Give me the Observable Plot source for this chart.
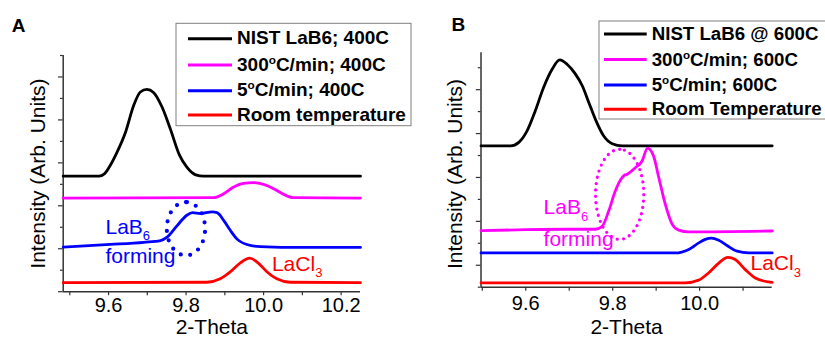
<!DOCTYPE html>
<html><head><meta charset="utf-8">
<script src="https://cdn.jsdelivr.net/npm/d3@7"></script>
<script src="https://cdn.jsdelivr.net/npm/@observablehq/plot@0.6"></script>
<style>
body{margin:0;background:#fff}
#wrap{position:relative;width:825px;height:337px;overflow:hidden;font-family:"Liberation Sans",Arial,sans-serif;background:#fff}
#wrap svg{position:absolute;top:0}
</style></head><body><div id="wrap"></div>
<script>
// ---------------- DATA ----------------
const seriesColors = ["#000000", "#ff00ff", "#0000ff", "#ff0000"];

// Panel A (2-Theta, intensity offset)
const aLegend = ["NIST LaB6; 400C", "300^oC/min; 400C", "5^oC/min; 400C", "Room temperature"];
const aNist = [[9.483,2.69],[9.575,2.69],[9.59,2.75],[9.605,2.95],[9.622,3.25],[9.644,3.72],[9.665,4.34],[9.682,4.65],[9.699,4.71],[9.716,4.64],[9.738,4.30],[9.759,3.80],[9.783,3.18],[9.802,2.90],[9.825,2.72],[9.845,2.69],[10.25,2.69]];
const aFast = [[9.483,2.18],[9.871,2.19],[9.897,2.28],[9.923,2.44],[9.948,2.52],[9.974,2.54],[10.0,2.50],[10.026,2.40],[10.051,2.27],[10.077,2.19],[10.25,2.18]];
const aSlow = [[9.483,1.04],[9.605,1.10],[9.691,1.15],[9.734,1.19],[9.751,1.27],[9.777,1.54],[9.802,1.78],[9.817,1.84],[9.837,1.82],[9.867,1.86],[9.88,1.84],[9.897,1.66],[9.914,1.43],[9.931,1.23],[9.957,1.10],[9.991,1.05],[10.10,1.03],[10.25,1.03]];
const aRoom = [[9.483,0.21],[9.854,0.22],[9.888,0.30],[9.914,0.46],[9.94,0.67],[9.964,0.78],[9.987,0.66],[10.009,0.46],[10.034,0.30],[10.069,0.22],[10.25,0.21]];
const aXTicks = [9.5,9.6,9.7,9.8,9.9,10.0,10.1,10.2];
const aXLabels = [9.6,9.8,10.0,10.2];
const aYMajor = [0,1,2,3,4,5];
const aYMinor = [0.5,1.5,2.5,3.5,4.5,5.5];
const aNotes = [{x:9.592,y:1.506,t:"LaB_6",c:"#0000ff"},{x:9.592,y:0.82,t:"forming",c:"#0000ff"},{x:10.0215,y:0.65,t:"LaCl_3",c:"#ff0000"}];
const aEllipse = {cx:9.7997, cy:1.466, rx:0.0494, ry:0.622, color:"#0000ff"};

// Panel B
const bLegend = ["NIST LaB6 @ 600C", "300^oC/min; 600C", "5^oC/min; 600C", "Room Temperature"];
const bNist = [[9.497,3.72],[9.565,3.72],[9.584,3.80],[9.603,4.06],[9.622,4.52],[9.641,5.05],[9.661,5.47],[9.678,5.68],[9.695,5.58],[9.714,5.36],[9.73,5.09],[9.745,4.71],[9.76,4.33],[9.779,3.95],[9.799,3.77],[9.822,3.72],[10.167,3.72]];
const bFast = [[9.497,1.79],[9.60,1.81],[9.70,1.82],[9.76,1.82],[9.776,1.89],[9.791,2.24],[9.806,2.69],[9.822,3.00],[9.827,3.05],[9.833,3.07],[9.852,3.22],[9.868,3.38],[9.880,3.67],[9.894,3.49],[9.906,3.00],[9.921,2.39],[9.937,1.93],[9.952,1.80],[9.975,1.76],[10.167,1.78]];
const bSlow = [[9.497,1.28],[9.944,1.28],[9.975,1.36],[9.998,1.51],[10.013,1.59],[10.027,1.62],[10.044,1.57],[10.063,1.45],[10.086,1.32],[10.113,1.28],[10.167,1.28]];
const bRoom = [[9.497,0.60],[9.967,0.60],[9.998,0.66],[10.021,0.83],[10.044,1.05],[10.065,1.18],[10.082,1.13],[10.105,0.90],[10.128,0.71],[10.159,0.62],[10.167,0.61]];
const bXTicks = [9.5,9.6,9.7,9.8,9.9,10.0,10.1];
const bXLabels = [9.6,9.8,10.0];
const bYMajor = [1,2,3,4,5];
const bYMinor = [0.5,1.5,2.5,3.5,4.5,5.5];
const bNotes = [{x:9.641,y:2.313,t:"LaB_6",c:"#ff00ff"},{x:9.641,y:1.589,t:"forming",c:"#ff00ff"},{x:10.117,y:1.034,t:"LaCl_3",c:"#ff0000"}];
const bEllipse = {cx:9.816, cy:2.616, rx:0.0555, ry:1.027, color:"#ff00ff"};

// ---------------- DRAW ----------------
const FONT = '"Liberation Sans", Arial, sans-serif';
const AXIS = "#333";
const wrap = document.getElementById("wrap");

function ellipsePts(e) {
  const n = 160, pts = [];
  for (let i = 0; i <= n; i++) {
    const t = Math.PI / 2 + (i / n) * 2 * Math.PI;
    pts.push([e.cx + e.rx * Math.cos(t), e.cy + e.ry * Math.sin(t)]);
  }
  return pts;
}

function panel(p) {
  const rows = p.series.flatMap((s, i) => s.map(([x, y]) => ({x, y, k: i})));
  const svg = Plot.plot({
    width: p.width, height: 337,
    marginLeft: p.ml, marginRight: p.mr, marginTop: p.mt, marginBottom: p.mb,
    x: {domain: p.xDomain, label: null},
    y: {domain: p.yDomain, label: null},
    style: {fontFamily: FONT, fontSize: "20px", color: "#000", background: "transparent"},
    marks: [
      Plot.axisY(p.yMajor, {tickSize: 4.7, tickFormat: () => "", stroke: AXIS, strokeWidth: 1.2, label: null}),
      Plot.axisY(p.yMinor.filter(v => v >= p.yDomain[0] && v <= p.yDomain[1]), {tickSize: 2.7, tickFormat: () => "", stroke: AXIS, strokeWidth: 1.2, label: null}),
      Plot.axisX(p.xTicks, {tickSize: 4, tickFormat: () => "", stroke: AXIS, strokeWidth: 1.2, label: null}),
      Plot.axisX(p.xLabels, {tickSize: 0, tickPadding: p.tickPad, tickFormat: d => d.toFixed(1), fontSize: 20, label: null}),
      Plot.ruleX([p.xDomain[0]], {stroke: AXIS, strokeWidth: 1.5}),
      Plot.ruleY([p.yDomain[0]], {stroke: AXIS, strokeWidth: 1.5}),
      Plot.line(rows, {x: "x", y: "y", z: "k", stroke: d => seriesColors[d.k], strokeWidth: 2.8, curve: "monotone-x", strokeLinejoin: "round"}),
      Plot.line(ellipsePts(p.ellipse), {x: d => d[0], y: d => d[1], stroke: p.ellipse.color, strokeWidth: p.dotW, strokeDasharray: p.dotDash, strokeLinecap: "round", curve: "linear"}),
      Plot.text(p.notes, {x: "x", y: "y", text: "t", fill: d => d.c, fontSize: 21, textAnchor: "start", lineAnchor: "middle"}),
      Plot.text(["Intensity (Arb. Units)"], {frameAnchor: "left", rotate: -90, dx: p.ylabDx, dy: p.ylabDy, fontSize: 21, textAnchor: "middle", lineAnchor: "middle"}),
      Plot.text(["2-Theta"], {frameAnchor: "bottom", dy: p.xlabDy, fontSize: 21, textAnchor: "middle", lineAnchor: "top"})
    ]
  });
  svg.style.left = p.left + "px";
  // subscripts
  d3.select(svg).selectAll("text").each(function() {
    const el = d3.select(this);
    if (this.childElementCount === 0 && this.textContent.includes("_")) {
      const [a, b] = this.textContent.split("_");
      el.text(a);
      el.append("tspan").attr("font-size", 13).attr("dy", 6.5).text(b);
    }
  });
  wrap.appendChild(svg);
}

panel({left: 0, width: 420, ml: 62.7, mr: 60, mt: 55, mb: 45.8,
  xDomain: [9.483, 10.25], yDomain: [0, 5.5], xTicks: aXTicks, xLabels: aXLabels, yMajor: aYMajor, yMinor: aYMinor,
  series: [aNist, aFast, aSlow, aRoom], notes: aNotes, ellipse: aEllipse, dotW: 4.2, dotDash: "0 9.6",
  tickPad: 6.5, ylabDx: -25.4, ylabDy: 0, xlabDy: 27.3});
panel({left: 420, width: 405, ml: 60.5, mr: 53.3, mt: 52.3, mb: 50.3,
  xDomain: [9.497, 10.167], yDomain: [0.5, 5.84], xTicks: bXTicks, xLabels: bXLabels, yMajor: bYMajor, yMinor: bYMinor,
  series: [bNist, bFast, bSlow, bRoom], notes: bNotes, ellipse: bEllipse, dotW: 3.3, dotDash: "0 6.4",
  tickPad: 9, ylabDx: -25.5, ylabDy: 4, xlabDy: 31.6});

// overlay: legends and panel letters
const ov = d3.select(wrap).append("svg").attr("width", 825).attr("height", 337).style("left", "0px").style("pointer-events", "none");
function legend(labels, o) {
  ov.append("rect").attr("x", o.x).attr("y", o.y).attr("width", o.w).attr("height", o.h)
    .attr("fill", "#fff").attr("stroke", "#808080").attr("stroke-width", 1);
  labels.forEach((lab, i) => {
    const b = o.base[i];
    ov.append("line").attr("x1", o.l1).attr("x2", o.l2).attr("y1", b - o.off).attr("y2", b - o.off)
      .attr("stroke", seriesColors[i]).attr("stroke-width", 3);
    const t = ov.append("text").attr("x", o.tx).attr("y", b).attr("font-family", FONT)
      .attr("font-weight", "bold").attr("font-size", o.fs).attr("fill", "#000");
    const parts = lab.split("^o");
    if (parts.length === 2) {
      t.append("tspan").text(parts[0]);
      t.append("tspan").attr("font-size", o.fs * 0.62).attr("dy", -7).text("o");
      t.append("tspan").attr("dy", 7).text(parts[1]);
    } else t.text(lab);
  });
}
legend(aLegend, {x: 176, y: 23.3, w: 235, h: 102.4, l1: 188, l2: 232, tx: 237, fs: 19, off: 5.5, base: [44.3, 70.5, 96.3, 120.5]});
legend(bLegend, {x: 599, y: 21, w: 232, h: 98, l1: 604, l2: 646.7, tx: 651.7, fs: 18.7, off: 6, base: [40, 65.5, 91, 115.3]});
ov.append("text").attr("x", 11.7).attr("y", 31.7).attr("font-family", FONT).attr("font-weight", "bold").attr("font-size", 19).text("A");
ov.append("text").attr("x", 451.5).attr("y", 31).attr("font-family", FONT).attr("font-weight", "bold").attr("font-size", 19).text("B");
</script></body></html>
